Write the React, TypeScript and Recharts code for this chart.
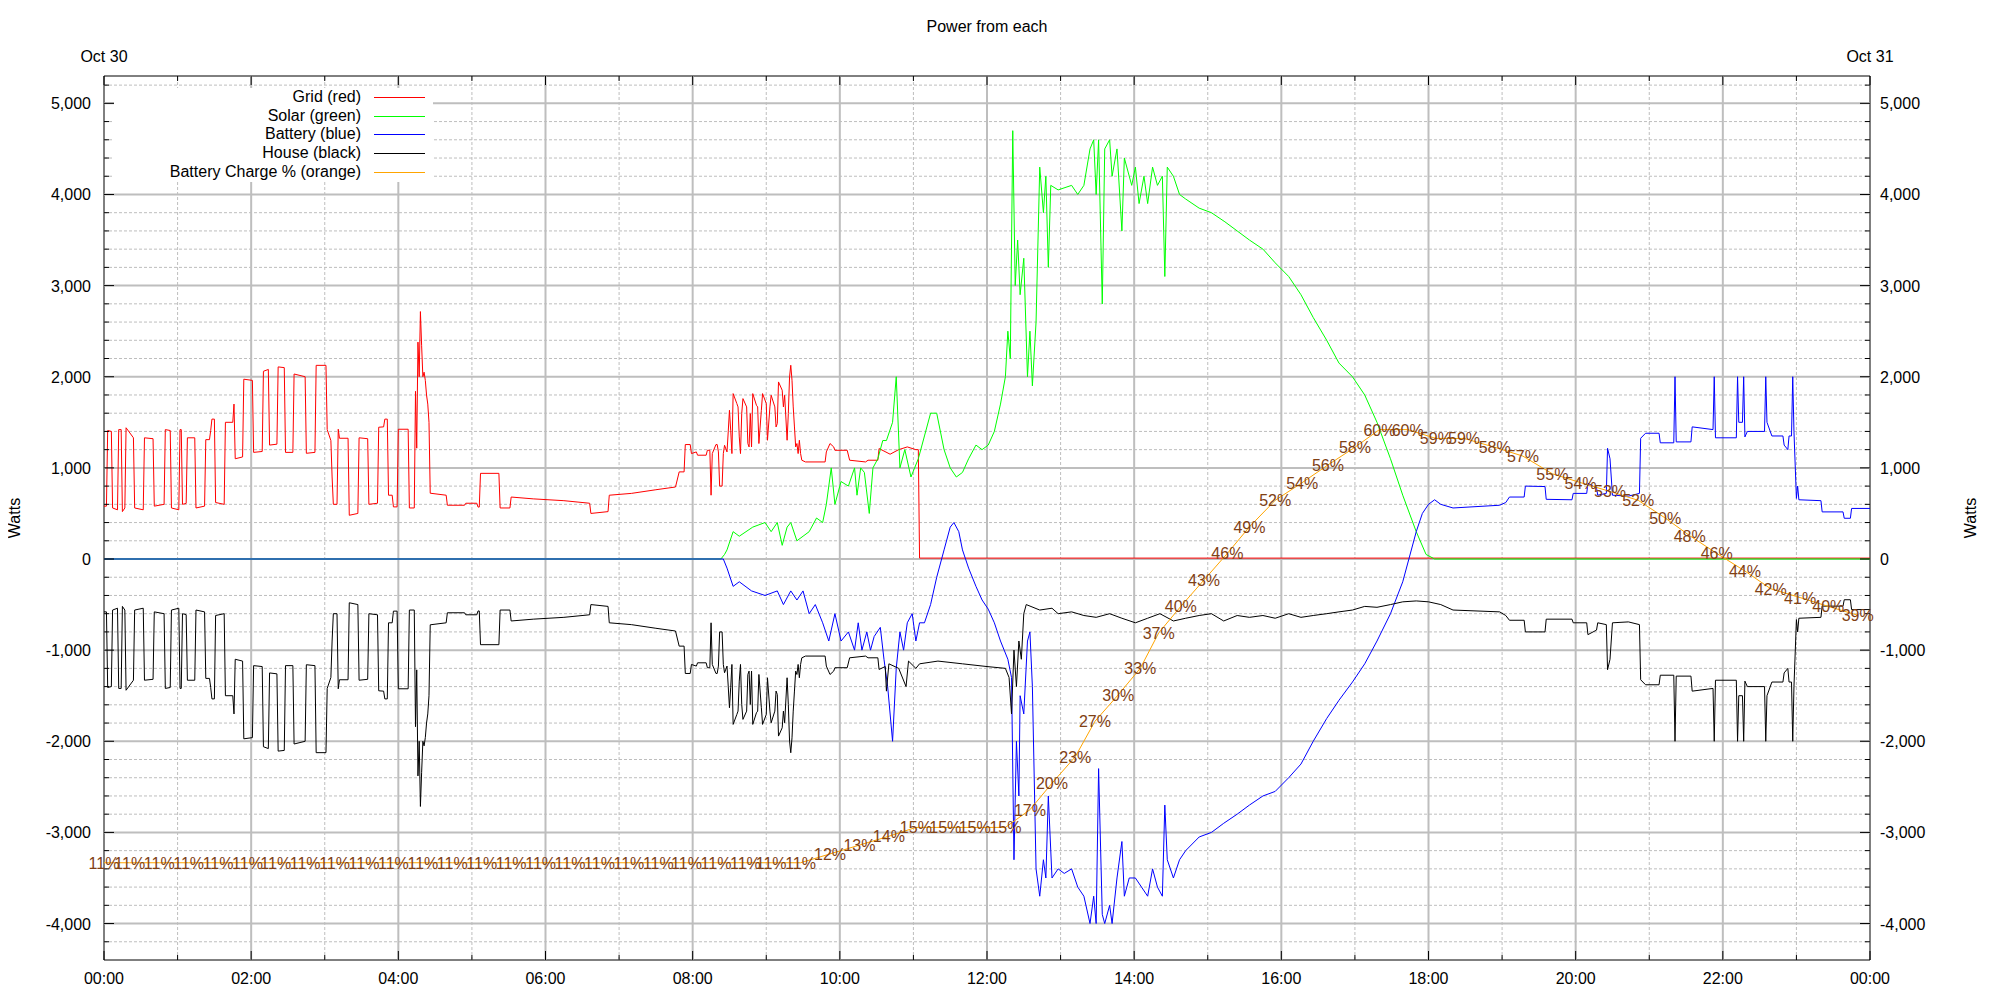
import { ComposedChart, Line, XAxis, YAxis, ReferenceLine, ReferenceArea, LabelList } from "recharts"

// all series: [minutes after midnight, watts]
const gridPower: [number, number][] = [
  [0, 580], [2, 580], [3, 1410], [6, 1400], [7, 560], [11, 540], [12, 1420], [14, 1420], [15, 520], [17, 560],
  [18, 1440], [24, 1330], [25, 560], [32, 540], [33, 1330], [40, 1320], [41, 580], [49, 600], [50, 1420], [54, 1410],
  [55, 560], [61, 540], [62, 1420], [63, 1420], [64, 600], [67, 610], [68, 1330], [74, 1330], [75, 560], [82, 580],
  [83, 1310], [86, 1310], [87, 1410], [88, 1535], [90, 1535], [91, 620], [98, 600], [99, 1500], [105, 1500], [106, 1700],
  [107, 1100], [113, 1120], [114, 1973], [121, 1960], [122, 1170], [129, 1180], [130, 2060], [134, 2080], [135, 1250], [141, 1260],
  [142, 2108], [147, 2100], [148, 1170], [154, 1170], [155, 2030], [164, 2000], [165, 1160], [172, 1170], [173, 2125], [181, 2125],
  [182, 1420], [185, 1300], [186, 900], [187, 600], [190, 600], [191, 1424], [192, 1325], [199, 1325], [200, 480], [207, 500],
  [208, 1330], [215, 1320], [216, 600], [223, 612], [224, 1446], [228, 1450], [229, 1535], [231, 1535], [232, 700], [235, 700],
  [236, 572], [239, 572], [240, 1424], [248, 1424], [249, 560], [253, 560], [254, 1840], [255, 1216], [256, 2380], [257, 2000],
  [258, 2715], [259, 2340], [260, 2000], [261, 2050], [262, 1960], [263, 1800], [264, 1700], [265, 1500], [266, 722], [279, 700],
  [280, 590], [294, 590], [295, 612], [304, 612], [305, 570], [306, 570], [307, 940], [322, 940], [323, 560], [331, 560],
  [332, 680], [350, 660], [375, 640], [396, 612], [397, 500], [411, 520], [412, 700], [430, 720], [450, 760], [466, 790],
  [469, 956], [473, 956], [474, 1256], [478, 1256], [479, 1157], [483, 1175], [484, 1139], [491, 1139], [492, 1193], [494, 1193],
  [495, 700], [496, 1157], [499, 1256], [500, 1256], [501, 1175], [502, 800], [504, 800], [505, 1157], [506, 1248], [508, 1175],
  [509, 1395], [510, 1632], [511, 1413], [512, 1157], [513, 1815], [516, 1706], [517, 1669], [518, 1340], [519, 1157], [520, 1596],
  [521, 1760], [524, 1669], [525, 1267], [526, 1230], [527, 1596], [528, 1230], [529, 1815], [532, 1687], [533, 1669], [534, 1267],
  [536, 1632], [537, 1815], [540, 1706], [541, 1303], [543, 1669], [544, 1797], [547, 1669], [548, 1449], [549, 1486], [550, 1943],
  [553, 1852], [554, 1669], [555, 1797], [557, 1303], [558, 1596], [559, 1998], [560, 2126], [561, 1962], [562, 1669], [563, 1449],
  [564, 1230], [565, 1267], [566, 1157], [567, 1303], [568, 1157], [569, 1084], [572, 1065], [588, 1065], [589, 1175], [592, 1267],
  [595, 1230], [596, 1193], [606, 1193], [608, 1084], [621, 1065], [623, 1084], [631, 1084], [632, 1212], [641, 1150], [648, 1200],
  [655, 1230], [662, 1200], [664, 1200], [665, 10], [1440, 10],
]

const solarPower: [number, number][] = [
  [0, 0], [503, 0], [506, 50], [508, 100], [513, 300], [518, 250], [529, 350], [539, 400], [544, 300], [549, 400],
  [553, 150], [557, 350], [560, 400], [565, 200], [570, 250], [575, 300], [581, 450], [586, 400], [589, 600], [593, 1000],
  [596, 600], [601, 850], [607, 800], [612, 1000], [614, 700], [617, 1000], [620, 950], [624, 500], [627, 1000], [631, 1100],
  [635, 1300], [638, 1300], [643, 1500], [646, 2000], [649, 1000], [653, 1200], [658, 900], [664, 1100], [669, 1350], [674, 1600],
  [679, 1600], [685, 1200], [690, 1000], [695, 900], [700, 950], [705, 1100], [711, 1250], [716, 1200], [721, 1250], [726, 1400],
  [731, 1700], [735, 2000], [737, 2500], [739, 2200], [741, 4700], [743, 3000], [745, 3500], [747, 2900], [750, 3300], [753, 2000],
  [755, 2500], [757, 1900], [760, 2600], [763, 4300], [766, 3800], [768, 4200], [770, 3200], [772, 4100], [778, 4050], [789, 4100],
  [794, 4000], [799, 4100], [804, 4500], [807, 4600], [809, 4000], [811, 4600], [814, 2800], [816, 4500], [820, 4600], [822, 4200],
  [826, 4500], [830, 3600], [832, 4400], [838, 4100], [841, 4300], [844, 3900], [848, 4200], [851, 3900], [855, 4300], [859, 4100],
  [863, 4200], [865, 3100], [867, 4300], [872, 4200], [877, 4000], [882, 3950], [893, 3850], [903, 3800], [914, 3700], [924, 3600],
  [934, 3500], [945, 3400], [955, 3250], [966, 3100], [976, 2900], [986, 2650], [997, 2400], [1007, 2150], [1018, 2000], [1028, 1800],
  [1038, 1500], [1049, 1100], [1059, 700], [1070, 300], [1078, 50], [1085, 0], [1440, 0],
]

const batteryPower: [number, number][] = [
  [0, 0], [505, 0], [508, -100], [513, -300], [518, -250], [528, -350], [539, -400], [549, -350], [554, -500], [560, -350],
  [565, -450], [570, -350], [575, -600], [580, -500], [586, -700], [591, -900], [596, -600], [601, -900], [607, -800], [612, -1000],
  [615, -700], [618, -1000], [622, -800], [625, -1000], [628, -850], [633, -750], [636, -1100], [639, -1400], [643, -2000], [646, -1200],
  [649, -800], [652, -1000], [655, -700], [659, -600], [662, -900], [665, -700], [669, -700], [674, -500], [679, -200], [685, 100],
  [690, 350], [693, 400], [697, 300], [700, 100], [705, -100], [711, -300], [716, -450], [721, -550], [726, -700], [731, -900],
  [737, -1100], [740, -1300], [742, -3300], [744, -2000], [746, -2600], [747, -1500], [750, -1700], [753, -900], [755, -800], [757, -1400],
  [760, -3400], [763, -3700], [766, -3300], [768, -3500], [770, -2600], [773, -3500], [778, -3400], [783, -3450], [789, -3400], [794, -3600],
  [799, -3700], [804, -4000], [807, -3700], [809, -4000], [811, -2300], [814, -3900], [816, -4000], [820, -3800], [822, -4000], [826, -3500],
  [830, -3100], [832, -3700], [836, -3500], [841, -3500], [846, -3600], [851, -3700], [855, -3400], [859, -3600], [863, -3700], [865, -2700],
  [867, -3300], [872, -3500], [877, -3300], [882, -3200], [893, -3050], [903, -3000], [913, -2900], [924, -2800], [934, -2700], [945, -2600],
  [955, -2550], [966, -2400], [976, -2250], [986, -2000], [997, -1750], [1007, -1550], [1018, -1350], [1028, -1150], [1038, -900], [1049, -600],
  [1059, -250], [1064, 0], [1070, 300], [1075, 500], [1080, 600], [1085, 650], [1090, 600], [1100, 560], [1138, 590], [1143, 620],
  [1146, 680], [1158, 680], [1159, 800], [1175, 795], [1176, 655], [1197, 650], [1198, 720], [1209, 720], [1210, 830], [1217, 780],
  [1218, 700], [1225, 720], [1226, 1215], [1228, 1100], [1230, 700], [1243, 690], [1252, 720], [1253, 1325], [1257, 1380], [1268, 1380],
  [1269, 1275], [1280, 1275], [1281, 2000], [1282, 1285], [1294, 1285], [1295, 1450], [1312, 1420], [1313, 2000], [1314, 1330], [1331, 1330],
  [1332, 2000], [1333, 1500], [1336, 1500], [1337, 2000], [1338, 1340], [1340, 1400], [1354, 1400], [1355, 2000], [1356, 1500], [1360, 1350],
  [1369, 1350], [1370, 1250], [1373, 1200], [1374, 1350], [1376, 1350], [1377, 2000], [1378, 1400], [1380, 665], [1381, 800], [1382, 650],
  [1400, 640], [1401, 517], [1418, 517], [1419, 447], [1424, 447], [1425, 555], [1440, 555],
]

const housePower: [number, number][] = [
  [0, -580], [2, -580], [3, -1410], [6, -1400], [7, -560], [11, -540], [12, -1420], [14, -1420], [15, -520], [17, -560],
  [18, -1440], [24, -1330], [25, -560], [32, -540], [33, -1330], [40, -1320], [41, -580], [49, -600], [50, -1420], [54, -1410],
  [55, -560], [61, -540], [62, -1420], [63, -1420], [64, -600], [67, -610], [68, -1330], [74, -1330], [75, -560], [82, -580],
  [83, -1310], [86, -1310], [87, -1410], [88, -1535], [90, -1535], [91, -620], [98, -600], [99, -1500], [105, -1500], [106, -1700],
  [107, -1100], [113, -1120], [114, -1973], [121, -1960], [122, -1170], [129, -1180], [130, -2060], [134, -2080], [135, -1250], [141, -1260],
  [142, -2108], [147, -2100], [148, -1170], [154, -1170], [155, -2030], [164, -2000], [165, -1160], [172, -1170], [173, -2125], [181, -2125],
  [182, -1420], [185, -1300], [186, -900], [187, -600], [190, -600], [191, -1424], [192, -1325], [199, -1325], [200, -480], [207, -500],
  [208, -1330], [215, -1320], [216, -600], [223, -612], [224, -1446], [228, -1450], [229, -1535], [231, -1535], [232, -700], [235, -700],
  [236, -572], [239, -572], [240, -1424], [248, -1424], [249, -560], [253, -560], [254, -1840], [255, -1216], [256, -2380], [257, -2000],
  [258, -2715], [259, -2340], [260, -2000], [261, -2050], [262, -1960], [263, -1800], [264, -1700], [265, -1500], [266, -722], [279, -700],
  [280, -590], [294, -590], [295, -612], [304, -612], [305, -570], [306, -570], [307, -940], [322, -940], [323, -560], [331, -560],
  [332, -680], [350, -660], [375, -640], [396, -612], [397, -500], [411, -520], [412, -700], [430, -720], [450, -760], [466, -790],
  [469, -956], [473, -956], [474, -1256], [478, -1256], [479, -1157], [483, -1175], [484, -1139], [491, -1139], [492, -1193], [494, -1193],
  [495, -700], [496, -1157], [499, -1256], [500, -1256], [501, -1175], [502, -800], [504, -800], [505, -1157], [506, -1248], [508, -1175],
  [509, -1395], [510, -1632], [511, -1413], [512, -1157], [513, -1815], [516, -1706], [517, -1669], [518, -1340], [519, -1157], [520, -1596],
  [521, -1760], [524, -1669], [525, -1267], [526, -1230], [527, -1596], [528, -1230], [529, -1815], [532, -1687], [533, -1669], [534, -1267],
  [536, -1632], [537, -1815], [540, -1706], [541, -1303], [543, -1669], [544, -1797], [547, -1669], [548, -1449], [549, -1486], [550, -1943],
  [553, -1852], [554, -1669], [555, -1797], [557, -1303], [558, -1596], [559, -1998], [560, -2126], [561, -1962], [562, -1669], [563, -1449],
  [564, -1230], [565, -1267], [566, -1157], [567, -1303], [568, -1157], [569, -1084], [572, -1065], [588, -1065], [589, -1175], [592, -1267],
  [595, -1230], [596, -1193], [606, -1193], [608, -1084], [621, -1065], [623, -1084], [631, -1084], [632, -1212], [637, -1180], [638, -1450],
  [640, -1150], [648, -1200], [654, -1400], [656, -1120], [662, -1200], [665, -1150], [680, -1120], [700, -1150], [720, -1180], [735, -1200],
  [738, -1300], [740, -1700], [742, -1000], [744, -1400], [746, -900], [748, -1100], [750, -600], [752, -500], [763, -560], [773, -540],
  [778, -600], [789, -580], [799, -620], [809, -640], [820, -600], [830, -650], [841, -700], [851, -650], [861, -600], [872, -680],
  [882, -650], [893, -620], [903, -600], [913, -680], [924, -620], [934, -640], [945, -620], [955, -650], [966, -600], [976, -640],
  [986, -620], [997, -600], [1007, -580], [1018, -560], [1028, -520], [1038, -530], [1049, -500], [1059, -470], [1070, -460], [1080, -470],
  [1090, -500], [1100, -560], [1138, -580], [1143, -620], [1146, -672], [1158, -672], [1159, -800], [1175, -800], [1176, -660], [1197, -660],
  [1198, -700], [1209, -700], [1210, -830], [1217, -780], [1218, -700], [1225, -720], [1226, -1215], [1228, -1100], [1230, -700], [1243, -690],
  [1252, -720], [1253, -1325], [1257, -1380], [1268, -1380], [1269, -1275], [1280, -1275], [1281, -2000], [1282, -1285], [1294, -1285], [1295, -1450],
  [1312, -1420], [1313, -2000], [1314, -1330], [1331, -1330], [1332, -2000], [1333, -1500], [1336, -1500], [1337, -2000], [1338, -1340], [1340, -1400],
  [1354, -1400], [1355, -2000], [1356, -1500], [1360, -1350], [1369, -1350], [1370, -1250], [1373, -1200], [1374, -1350], [1376, -1350], [1377, -2000],
  [1378, -1400], [1380, -665], [1381, -800], [1382, -650], [1400, -640], [1401, -517], [1418, -517], [1419, -447], [1424, -447], [1425, -555],
  [1440, -555],
]

// [minutes after midnight, battery charge %]
const chargeLevel: [number, number][] = [
  [0, 11], [21, 11], [45, 11], [69, 11], [93, 11], [117, 11], [140, 11], [164, 11], [188, 11], [212, 11],
  [236, 11], [260, 11], [284, 11], [308, 11], [332, 11], [356, 11], [380, 11], [404, 11], [428, 11], [452, 11],
  [475, 11], [499, 11], [523, 11], [544, 11], [568, 11], [592, 12], [616, 13], [640, 14], [662, 15], [686, 15],
  [710, 15], [735, 15], [755, 17], [773, 20], [792, 23], [808, 27], [827, 30], [845, 33], [860, 37], [878, 40],
  [897, 43], [916, 46], [934, 49], [955, 52], [977, 54], [998, 56], [1020, 58], [1040, 60], [1063, 60], [1086, 59],
  [1109, 59], [1134, 58], [1157, 57], [1181, 55], [1204, 54], [1228, 53], [1251, 52], [1273, 50], [1293, 48], [1315, 46],
  [1338, 44], [1359, 42], [1383, 41], [1406, 40], [1430, 39],
]

const hourLabels = ["00:00", "02:00", "04:00", "06:00", "08:00", "10:00", "12:00", "14:00", "16:00", "18:00", "20:00", "22:00", "00:00"]
const dayLabels = ["Oct 30", "Oct 31"]

const legendItems = [
  { name: "Grid (red)", color: "#ff0000" },
  { name: "Solar (green)", color: "#00ff00" },
  { name: "Battery (blue)", color: "#0000ff" },
  { name: "House (black)", color: "#000000" },
  { name: "Battery Charge % (orange)", color: "#ffa500" },
]

const FONT = '"Liberation Sans", Arial, Helvetica, sans-serif'
const Y_MIN = -4400
const Y_MAX = 5300
const GRID = "#bebebe"

const hourTicks: number[] = []
for (let m = 0; m <= 1440; m += 60) hourTicks.push(m)
const wattTicks: number[] = []
for (let w = -4200; w <= 5200; w += 200) wattTicks.push(w)

const rows = (pts: [number, number][]) => pts.map(([t, v]) => ({ t, v }))

const fmt = (v: number) => v.toLocaleString("en-US")

function BottomTick({ x, y, payload }: any) {
  const m = payload.value
  const major = m % 120 === 0
  return (
    <g>
      <line x1={x} x2={x} y1={y} y2={y - (major ? 9 : 5)} stroke="#000" />
      {major && (
        <text x={x} y={y + 24} textAnchor="middle" fontSize={16} fontFamily={FONT} fill="#000">
          {hourLabels[m / 120]}
        </text>
      )}
    </g>
  )
}

function TopTick({ x, y, payload }: any) {
  const m = payload.value
  const major = m % 120 === 0
  const day = m === 0 ? dayLabels[0] : m === 1440 ? dayLabels[1] : null
  return (
    <g>
      <line x1={x} x2={x} y1={y} y2={y + (major ? 9 : 5)} stroke="#000" />
      {day && (
        <text x={x} y={y - 14} textAnchor="middle" fontSize={16} fontFamily={FONT} fill="#000">
          {day}
        </text>
      )}
    </g>
  )
}

function LeftTick({ x, y, payload }: any) {
  const v = payload.value
  const major = v % 1000 === 0
  return (
    <g>
      <line x1={x} x2={x + (major ? 10 : 5)} y1={y} y2={y} stroke="#000" />
      {major && (
        <text x={x - 13} y={y + 6} textAnchor="end" fontSize={16} fontFamily={FONT} fill="#000">
          {fmt(v)}
        </text>
      )}
    </g>
  )
}

function RightTick({ x, y, payload }: any) {
  const v = payload.value
  const major = v % 1000 === 0
  return (
    <g>
      <line x1={x} x2={x - (major ? 10 : 5)} y1={y} y2={y} stroke="#000" />
      {major && (
        <text x={x + 10} y={y + 6} textAnchor="start" fontSize={16} fontFamily={FONT} fill="#000">
          {fmt(v)}
        </text>
      )}
    </g>
  )
}

function PctLabel({ x, y, value }: any) {
  return (
    <text x={x} y={y + 6} textAnchor="middle" fontSize={16} fontFamily={FONT} fill="#804014">
      {value}%
    </text>
  )
}

const textStyle: React.CSSProperties = {
  position: "absolute",
  fontFamily: FONT,
  fontSize: 16,
  lineHeight: "16px",
  color: "#000",
  whiteSpace: "nowrap",
}

export default function App() {
  return (
    <div style={{ position: "relative", width: 1984, height: 992, background: "#fff" }}>
      <ComposedChart width={1984} height={992} margin={{ top: 67, right: 0, bottom: 0, left: 0 }}>
        <XAxis
          dataKey="t"
          type="number"
          domain={[0, 1440]}
          ticks={hourTicks}
          interval={0}
          height={40}
          axisLine={false}
          tickLine={false}
          tickSize={0}
          tickMargin={0}
          tick={<BottomTick />}
          allowDataOverflow
        />
        <XAxis
          xAxisId="top"
          orientation="top"
          dataKey="t"
          type="number"
          domain={[0, 1440]}
          ticks={hourTicks}
          interval={0}
          height={1}
          axisLine={false}
          tickLine={false}
          tickSize={0}
          tickMargin={0}
          tick={<TopTick />}
          allowDataOverflow
        />
        <YAxis yAxisId="p" type="number" domain={[0, 100]} width={0} hide allowDataOverflow />
        <YAxis
          yAxisId="w"
          type="number"
          domain={[Y_MIN, Y_MAX]}
          ticks={wattTicks}
          interval={0}
          width={96}
          axisLine={false}
          tickLine={false}
          tickSize={0}
          tickMargin={0}
          tick={<LeftTick />}
          allowDataOverflow
        />
        <YAxis
          yAxisId="r"
          orientation="right"
          type="number"
          domain={[Y_MIN, Y_MAX]}
          ticks={wattTicks}
          interval={0}
          width={122}
          axisLine={false}
          tickLine={false}
          tickSize={0}
          tickMargin={0}
          tick={<RightTick />}
          allowDataOverflow
        />

        {wattTicks.map((w) => (
          <ReferenceLine
            key={"h" + w}
            yAxisId="w"
            y={w}
            stroke={GRID}
            strokeWidth={w % 1000 === 0 ? 2 : 1}
            strokeDasharray={w % 1000 === 0 ? undefined : "3 2"}
          />
        ))}
        {hourTicks.slice(1, -1).map((m) => (
          <ReferenceLine
            key={"v" + m}
            yAxisId="w"
            x={m}
            stroke={GRID}
            strokeWidth={m % 120 === 0 ? 2 : 1}
            strokeDasharray={m % 120 === 0 ? undefined : "3 2"}
          />
        ))}

        <Line data={rows(gridPower)} dataKey="v" yAxisId="w" type="linear" stroke="#ff0000" strokeWidth={1} dot={false} isAnimationActive={false} />
        <Line data={rows(solarPower)} dataKey="v" yAxisId="w" type="linear" stroke="#00ff00" strokeWidth={1} dot={false} isAnimationActive={false} />
        <Line data={rows(batteryPower)} dataKey="v" yAxisId="w" type="linear" stroke="#0000ff" strokeWidth={1} dot={false} isAnimationActive={false} />
        <Line data={rows(housePower)} dataKey="v" yAxisId="w" type="linear" stroke="#000000" strokeWidth={1} dot={false} isAnimationActive={false} />
        <Line data={rows(chargeLevel)} dataKey="v" yAxisId="p" type="linear" stroke="#ffa500" strokeWidth={1} dot={false} isAnimationActive={false}>
          <LabelList dataKey="v" content={<PctLabel />} />
        </Line>

        <ReferenceArea yAxisId="w" x1={0} x2={1440} y1={Y_MIN} y2={Y_MAX} fill="none" stroke="#000" strokeWidth={1} ifOverflow="visible" />
      </ComposedChart>

      <div style={{ ...textStyle, left: 979, top: 11, transform: "translateX(-50%)" }}>Power from each</div>
      <div style={{ ...textStyle, left: 7, top: 510, transform: "translate(-50%, -50%) rotate(-90deg)" }}>Watts</div>
      <div style={{ ...textStyle, left: 1963, top: 510, transform: "translate(-50%, -50%) rotate(-90deg)" }}>Watts</div>

      <div style={{ position: "absolute", left: 106, top: 80, width: 319, height: 94, background: "#fff" }}>
        {legendItems.map((item, i) => (
          <div key={item.name}>
            <div style={{ ...textStyle, right: 319 - 247, top: 9 + i * 18.7 - 8, textAlign: "right" }}>{item.name}</div>
            <div style={{ position: "absolute", left: 260, width: 51, top: 9 + i * 18.7, height: 1, background: item.color }} />
          </div>
        ))}
      </div>
    </div>
  )
}
